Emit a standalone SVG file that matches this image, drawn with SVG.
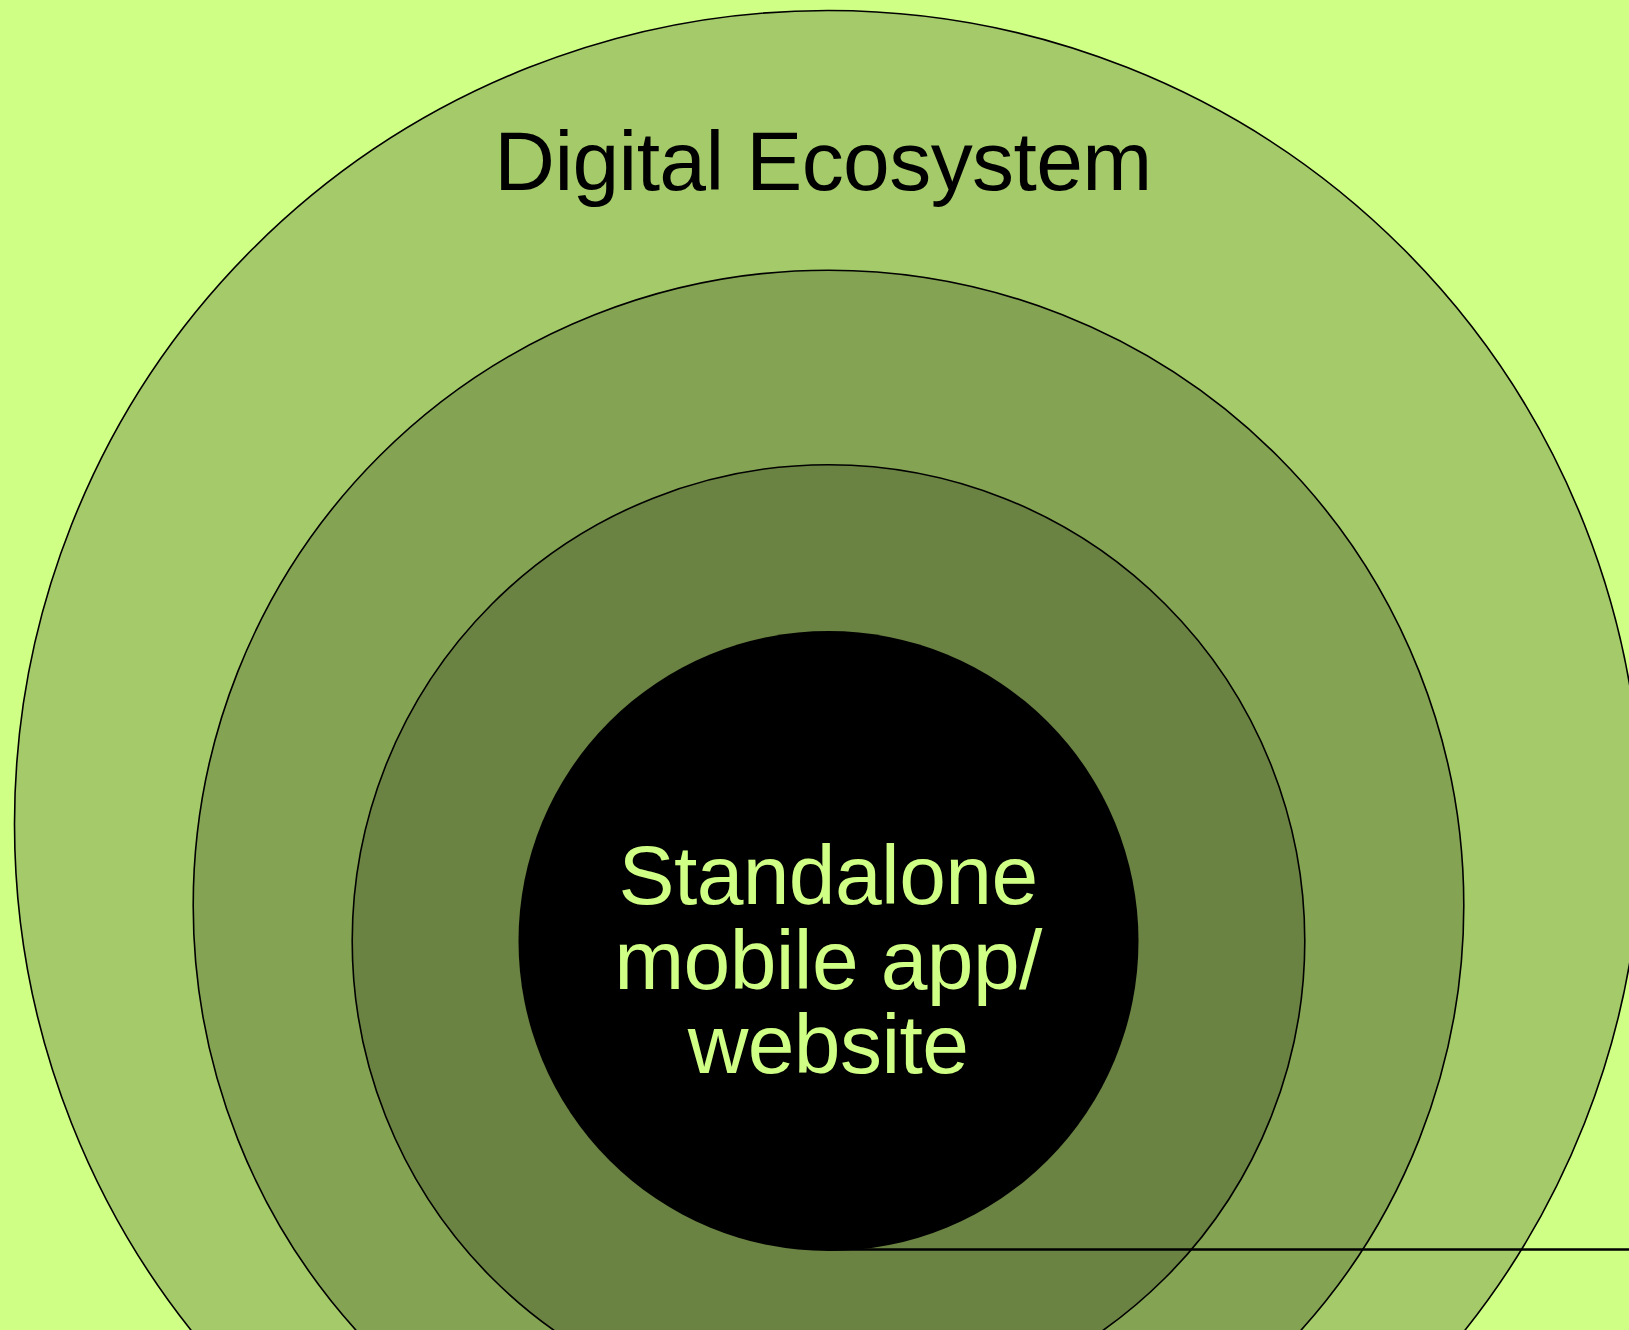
<svg xmlns="http://www.w3.org/2000/svg" width="1629" height="1330" viewBox="0 0 1629 1330">
<style>
.ring{stroke:#000;stroke-width:1.6}
.lbl{font-family:"Liberation Sans",Arial,sans-serif;font-size:84px;text-anchor:middle;letter-spacing:-0.6px}
</style>
<rect x="0" y="0" width="1629" height="1330" fill="#cfff85"/>
<g id="ring-ecosystem">
<circle class="ring" cx="828" cy="824" r="813.5" fill="#a5ca6a"/>
<text class="lbl" x="823" y="190" fill="#000">Digital Ecosystem</text>
</g>
<g id="ring-2">
<circle class="ring" cx="828.5" cy="905.5" r="635.3" fill="#84a454"/>
</g>
<g id="ring-3">
<circle class="ring" cx="828.5" cy="941" r="476.3" fill="#6a8242"/>
</g>
<g id="core">
<circle cx="828.5" cy="941" r="310" fill="#000"/>
<text class="lbl" x="828" y="904" fill="#cfff85">Standalone</text>
<text class="lbl" x="828" y="989" fill="#cfff85">mobile app/</text>
<text class="lbl" x="828" y="1073" fill="#cfff85">website</text>
</g>
<g id="connectors">
<line x1="828" y1="1249.5" x2="1629" y2="1249.5" stroke="#000" stroke-width="2.5"/>
</g>
</svg>
